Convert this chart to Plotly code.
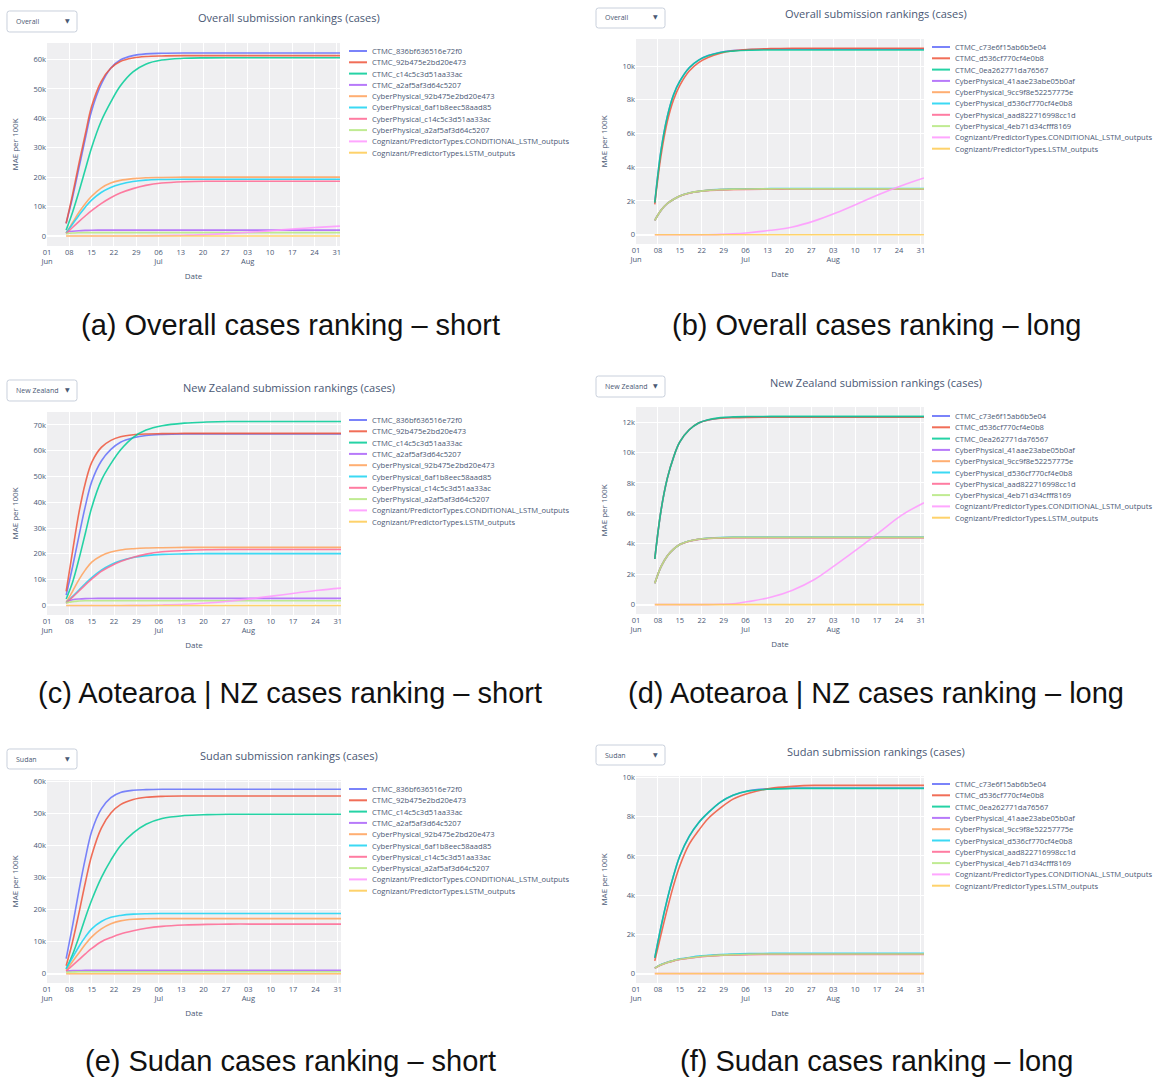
import plotly.graph_objects as go

# ---------------- data (values in thousands of MAE per 100K) ----------------
DATES = ["2020-06-07", "2020-06-09", "2020-06-11", "2020-06-13", "2020-06-15",
         "2020-06-18", "2020-06-21", "2020-06-24", "2020-06-28", "2020-07-02",
         "2020-07-07", "2020-07-14", "2020-07-21", "2020-07-28", "2020-08-04",
         "2020-08-11", "2020-08-18", "2020-08-25", "2020-09-01"]
UNIT = 1000

TICK_DATES = ["2020-06-01", "2020-06-08", "2020-06-15", "2020-06-22", "2020-06-29",
              "2020-07-06", "2020-07-13", "2020-07-20", "2020-07-27", "2020-08-03",
              "2020-08-10", "2020-08-17", "2020-08-24", "2020-08-31"]
TICK_TEXT = ["01<br>Jun", "08", "15", "22", "29", "06<br>Jul", "13", "20", "27",
             "03<br>Aug", "10", "17", "24", "31"]

SHORT_NAMES = ["CTMC_836bf636516e72f0", "CTMC_92b475e2bd20e473", "CTMC_c14c5c3d51aa33ac",
               "CTMC_a2af5af3d64c5207", "CyberPhysical_92b475e2bd20e473",
               "CyberPhysical_6af1b8eec58aad85", "CyberPhysical_c14c5c3d51aa33ac",
               "CyberPhysical_a2af5af3d64c5207",
               "Cognizant/PredictorTypes.CONDITIONAL_LSTM_outputs",
               "Cognizant/PredictorTypes.LSTM_outputs"]
LONG_NAMES = ["CTMC_c73e6f15ab6b5e04", "CTMC_d536cf770cf4e0b8", "CTMC_0ea262771da76567",
              "CyberPhysical_41aae23abe05b0af", "CyberPhysical_9cc9f8e52257775e",
              "CyberPhysical_d536cf770cf4e0b8", "CyberPhysical_aad822716998cc1d",
              "CyberPhysical_4eb71d34cfff8169",
              "Cognizant/PredictorTypes.CONDITIONAL_LSTM_outputs",
              "Cognizant/PredictorTypes.LSTM_outputs"]

COLORS = ["#636efa", "#EF553B", "#00cc96", "#ab63fa", "#FFA15A",
          "#19d3f3", "#FF6692", "#B6E880", "#FF97FF", "#FECB52"]

# (a) Overall - short
A_VALUES = [
    [4.3, 13, 23, 33, 42.5, 51.5, 57, 59.8, 61.3, 61.9, 62.1, 62.2, 62.2, 62.2, 62.2, 62.2, 62.2, 62.2, 62.2],
    [4.3, 14, 24.5, 34.5, 44, 52.5, 57, 59.3, 60.5, 61.0, 61.2, 61.3, 61.3, 61.3, 61.3, 61.3, 61.3, 61.3, 61.3],
    [2.0, 8, 15, 22.5, 30, 39, 45.5, 51, 55.8, 58.4, 59.8, 60.4, 60.55, 60.6, 60.6, 60.6, 60.6, 60.6, 60.6],
    [1.3, 1.6, 1.8, 1.9, 1.95, 2.0, 2.0, 2.0, 2.0, 2.0, 2.0, 2.0, 2.0, 2.0, 2.0, 2.0, 2.0, 2.0, 2.0],
    [1.0, 4.5, 8, 11, 13.5, 16.3, 18.0, 18.9, 19.5, 19.8, 19.9, 20.0, 20.0, 20.0, 20.0, 20.0, 20.0, 20.0, 20.0],
    [1.0, 4, 7, 9.8, 12.2, 14.8, 16.5, 17.6, 18.5, 19.0, 19.2, 19.3, 19.3, 19.3, 19.3, 19.3, 19.3, 19.3, 19.3],
    [0.8, 2.9, 4.9, 6.8, 8.6, 11.0, 13.0, 14.6, 16.1, 17.2, 18.0, 18.45, 18.6, 18.6, 18.6, 18.6, 18.6, 18.6, 18.6],
    [0.8, 1.0, 1.1, 1.15, 1.15, 1.15, 1.15, 1.15, 1.15, 1.15, 1.15, 1.15, 1.15, 1.15, 1.15, 1.15, 1.15, 1.15, 1.15],
    [0, 0, 0, 0, 0, 0, 0, 0, 0.02, 0.05, 0.12, 0.26, 0.46, 0.82, 1.3, 1.85, 2.42, 2.92, 3.36],
    [0] * 19,
]
# (b) Overall - long
B_VALUES = [
    [1.9, 5.0, 7.0, 8.3, 9.1, 9.9, 10.35, 10.62, 10.82, 10.92, 10.97, 11.0, 11.0, 11.0, 11.0, 11.0, 11.0, 11.0, 11.0],
    [1.8, 4.7, 6.7, 8.0, 8.85, 9.7, 10.2, 10.5, 10.75, 10.9, 10.98, 11.03, 11.05, 11.05, 11.05, 11.05, 11.05, 11.05, 11.05],
    [1.9, 5.0, 7.0, 8.3, 9.1, 9.9, 10.35, 10.6, 10.8, 10.88, 10.93, 10.95, 10.95, 10.95, 10.95, 10.95, 10.95, 10.95, 10.95],
    [0.85, 1.45, 1.85, 2.1, 2.3, 2.47, 2.57, 2.63, 2.67, 2.7, 2.71, 2.72, 2.72, 2.72, 2.72, 2.72, 2.72, 2.72, 2.72],
    [0.85, 1.45, 1.85, 2.1, 2.3, 2.47, 2.57, 2.63, 2.67, 2.69, 2.7, 2.71, 2.71, 2.71, 2.71, 2.71, 2.71, 2.71, 2.71],
    [0.85, 1.45, 1.85, 2.1, 2.3, 2.47, 2.57, 2.64, 2.68, 2.71, 2.72, 2.73, 2.73, 2.73, 2.73, 2.73, 2.73, 2.73, 2.73],
    [0.85, 1.45, 1.85, 2.1, 2.3, 2.46, 2.56, 2.62, 2.66, 2.68, 2.69, 2.7, 2.7, 2.7, 2.7, 2.7, 2.7, 2.7, 2.7],
    [0.85, 1.45, 1.85, 2.1, 2.3, 2.47, 2.57, 2.63, 2.67, 2.7, 2.71, 2.72, 2.72, 2.72, 2.72, 2.72, 2.72, 2.72, 2.72],
    [0, 0, 0, 0, 0, 0, 0, 0, 0.02, 0.05, 0.12, 0.26, 0.46, 0.82, 1.3, 1.85, 2.42, 2.92, 3.36],
    [0] * 19,
]
# (c) New Zealand - short
C_VALUES = [
    [4.0, 15, 27, 38.5, 48, 56, 60.5, 63.3, 65.0, 65.9, 66.3, 66.5, 66.5, 66.5, 66.5, 66.5, 66.5, 66.5, 66.5],
    [5.5, 21, 36, 47.5, 55.5, 61.3, 64.0, 65.4, 66.2, 66.5, 66.6, 66.7, 66.7, 66.7, 66.7, 66.7, 66.7, 66.7, 66.7],
    [2.5, 9, 18, 28, 38, 48.5, 55, 60.3, 65.2, 68.0, 69.7, 70.7, 71.1, 71.3, 71.3, 71.3, 71.3, 71.3, 71.3],
    [1.5, 2.2, 2.5, 2.65, 2.7, 2.75, 2.75, 2.75, 2.75, 2.75, 2.75, 2.75, 2.75, 2.75, 2.75, 2.75, 2.75, 2.75, 2.75],
    [1.2, 5.5, 10, 13.8, 16.8, 19.3, 20.7, 21.5, 22.0, 22.3, 22.4, 22.5, 22.5, 22.5, 22.5, 22.5, 22.5, 22.5, 22.5],
    [1.0, 3.5, 6, 8.5, 10.8, 13.7, 15.8, 17.3, 18.6, 19.3, 19.8, 20.0, 20.1, 20.1, 20.1, 20.1, 20.1, 20.1, 20.1],
    [0.9, 3.2, 5.6, 8.0, 10.2, 13.2, 15.3, 17.0, 18.7, 19.9, 20.8, 21.3, 21.6, 21.7, 21.7, 21.7, 21.7, 21.7, 21.7],
    [1.0, 1.5, 1.7, 1.8, 1.8, 1.8, 1.8, 1.8, 1.8, 1.8, 1.8, 1.8, 1.8, 1.8, 1.8, 1.8, 1.8, 1.8, 1.8],
    [0, 0, 0, 0, 0, 0, 0, 0, 0.02, 0.05, 0.2, 0.48, 0.95, 1.65, 2.65, 3.7, 4.8, 5.9, 6.7],
    [0] * 19,
]
# (d) New Zealand - long
D_VALUES = [
    [3.0, 6.2, 8.3, 9.7, 10.7, 11.5, 11.95, 12.15, 12.28, 12.33, 12.35, 12.36, 12.36, 12.36, 12.36, 12.36, 12.36, 12.36, 12.36],
    [3.0, 6.2, 8.3, 9.7, 10.7, 11.5, 11.95, 12.14, 12.26, 12.3, 12.32, 12.33, 12.33, 12.33, 12.33, 12.33, 12.33, 12.33, 12.33],
    [3.0, 6.2, 8.3, 9.7, 10.7, 11.5, 11.95, 12.16, 12.3, 12.35, 12.37, 12.38, 12.38, 12.38, 12.38, 12.38, 12.38, 12.38, 12.38],
    [1.4, 2.5, 3.2, 3.65, 3.95, 4.18, 4.3, 4.36, 4.4, 4.42, 4.42, 4.42, 4.42, 4.42, 4.42, 4.42, 4.42, 4.42, 4.42],
    [1.4, 2.5, 3.2, 3.65, 3.95, 4.18, 4.3, 4.35, 4.39, 4.41, 4.41, 4.41, 4.41, 4.41, 4.41, 4.41, 4.41, 4.41, 4.41],
    [1.4, 2.5, 3.2, 3.65, 3.95, 4.18, 4.3, 4.36, 4.41, 4.43, 4.43, 4.43, 4.43, 4.43, 4.43, 4.43, 4.43, 4.43, 4.43],
    [1.4, 2.5, 3.2, 3.65, 3.95, 4.17, 4.29, 4.35, 4.39, 4.4, 4.4, 4.4, 4.4, 4.4, 4.4, 4.4, 4.4, 4.4, 4.4],
    [1.4, 2.5, 3.2, 3.65, 3.95, 4.18, 4.3, 4.36, 4.4, 4.42, 4.42, 4.42, 4.42, 4.42, 4.42, 4.42, 4.42, 4.42, 4.42],
    [0, 0, 0, 0, 0, 0, 0, 0, 0.02, 0.05, 0.2, 0.48, 0.95, 1.65, 2.65, 3.7, 4.8, 5.9, 6.7],
    [0] * 19,
]
# (e) Sudan - short
E_VALUES = [
    [4.7, 15, 26, 36, 44.5, 51.5, 55, 56.6, 57.3, 57.5, 57.6, 57.6, 57.6, 57.6, 57.6, 57.6, 57.6, 57.6, 57.6],
    [2.5, 10, 19, 28.5, 37, 45.5, 50.2, 52.8, 54.4, 55.1, 55.4, 55.5, 55.5, 55.5, 55.5, 55.5, 55.5, 55.5, 55.5],
    [1.5, 6, 11.5, 17.5, 23, 30, 35.5, 40, 44, 46.7, 48.5, 49.4, 49.7, 49.8, 49.8, 49.8, 49.8, 49.8, 49.8],
    [0.8, 0.95, 1.0, 1.05, 1.05, 1.05, 1.05, 1.05, 1.05, 1.05, 1.05, 1.05, 1.05, 1.05, 1.05, 1.05, 1.05, 1.05, 1.05],
    [1.0, 3.8, 6.5, 9.2, 11.5, 14, 15.6, 16.5, 17.0, 17.15, 17.2, 17.2, 17.2, 17.2, 17.2, 17.2, 17.2, 17.2, 17.2],
    [1.5, 5, 8.5, 11.5, 14, 16.3, 17.6, 18.2, 18.6, 18.75, 18.8, 18.8, 18.8, 18.8, 18.8, 18.8, 18.8, 18.8, 18.8],
    [0.8, 2.6, 4.4, 6.2, 7.9, 10.0, 11.3, 12.4, 13.4, 14.2, 14.8, 15.2, 15.4, 15.5, 15.5, 15.5, 15.5, 15.5, 15.5],
    [0.5, 0.55, 0.6, 0.6, 0.6, 0.6, 0.6, 0.6, 0.6, 0.6, 0.6, 0.6, 0.6, 0.6, 0.6, 0.6, 0.6, 0.6, 0.6],
    [0] * 19,
    [0] * 19,
]
# (f) Sudan - long
F_VALUES = [
    [0.8, 2.4, 3.8, 5.0, 6.0, 7.0, 7.7, 8.2, 8.75, 9.1, 9.33, 9.43, 9.46, 9.47, 9.47, 9.47, 9.47, 9.47, 9.47],
    [0.65, 2.0, 3.3, 4.5, 5.5, 6.6, 7.3, 7.9, 8.45, 8.9, 9.2, 9.45, 9.55, 9.6, 9.6, 9.6, 9.6, 9.6, 9.6],
    [0.8, 2.4, 3.8, 5.0, 6.0, 7.0, 7.7, 8.2, 8.75, 9.1, 9.32, 9.41, 9.44, 9.45, 9.45, 9.45, 9.45, 9.45, 9.45],
    [0.28, 0.45, 0.57, 0.66, 0.73, 0.8, 0.86, 0.9, 0.94, 0.97, 0.99, 1.0, 1.0, 1.0, 1.0, 1.0, 1.0, 1.0, 1.0],
    [0.28, 0.45, 0.57, 0.66, 0.73, 0.8, 0.86, 0.9, 0.94, 0.97, 0.99, 1.0, 1.0, 1.0, 1.0, 1.0, 1.0, 1.0, 1.0],
    [0.28, 0.46, 0.58, 0.67, 0.75, 0.82, 0.89, 0.93, 0.97, 1.0, 1.02, 1.03, 1.04, 1.04, 1.04, 1.04, 1.04, 1.04, 1.04],
    [0.27, 0.44, 0.56, 0.65, 0.72, 0.79, 0.85, 0.89, 0.93, 0.95, 0.97, 0.98, 0.98, 0.98, 0.98, 0.98, 0.98, 0.98, 0.98],
    [0.28, 0.45, 0.57, 0.66, 0.73, 0.8, 0.86, 0.9, 0.94, 0.97, 0.99, 1.0, 1.0, 1.0, 1.0, 1.0, 1.0, 1.0, 1.0],
    [0] * 19,
    [0] * 19,
]

TITLES = ["Overall submission rankings (cases)", "Overall submission rankings (cases)",
          "New Zealand submission rankings (cases)", "New Zealand submission rankings (cases)",
          "Sudan submission rankings (cases)", "Sudan submission rankings (cases)"]
DROPDOWN_LABELS = ["Overall", "Overall", "New Zealand", "New Zealand", "Sudan", "Sudan"]
CAPTIONS = ["(a) Overall cases ranking \u2013 short", "(b) Overall cases ranking \u2013 long",
            "(c) Aotearoa | NZ cases ranking \u2013 short", "(d) Aotearoa | NZ cases ranking \u2013 long",
            "(e) Sudan cases ranking \u2013 short", "(f) Sudan cases ranking \u2013 long"]
Y_RANGES = [[-3.4, 65.6], [-0.55, 11.6], [-3.7, 75.0], [-0.62, 13.0], [-2.9, 60.5], [-0.48, 10.08]]
Y_DTICKS = [10, 2, 10, 2, 10, 2]

# ---------------- layout geometry (pixels) ----------------
W, H = 1155, 1077
PLOT_BOXES = [(47, 43, 340, 246), (636, 39, 924, 244),
              (47, 412, 341, 615), (636, 407, 924, 614),
              (47, 780, 341, 983), (636, 776, 924, 983)]
DROP_BOXES = [(7, 11, 77, 32), (596, 8, 665, 28),
              (7, 380, 77, 401), (596, 376, 665, 397),
              (7, 749, 77, 769), (596, 745, 665, 765)]
TITLE_POS = [(289, 18), (876, 14), (289, 387), (876, 382), (289, 755), (876, 751)]
LEGEND_POS = [(349, 51), (932, 47), (349, 420), (932, 416), (349, 789), (932, 784)]
CAPTION_POS = [(290, 325), (876, 325), (290, 693), (876, 693), (290, 1061), (876, 1061)]
LEGEND_STEP = 11.3

FONT = "Open Sans"
TXT = "#4a5874"


def px(x):
    return x / W


def py(y):
    return 1 - y / H


panels = [
    (A_VALUES, SHORT_NAMES), (B_VALUES, LONG_NAMES),
    (C_VALUES, SHORT_NAMES), (D_VALUES, LONG_NAMES),
    (E_VALUES, SHORT_NAMES), (F_VALUES, LONG_NAMES),
]

fig = go.Figure()
layout = dict(width=W, height=H, autosize=False,
              margin=dict(l=0, r=0, t=0, b=0, pad=0, autoexpand=False),
              paper_bgcolor="white", plot_bgcolor="#EFEFF1",
              showlegend=False, font=dict(family=FONT, color=TXT, size=7))
shapes = []
annotations = []

for i, (values, names) in enumerate(panels):
    n = i + 1
    suffix = "" if n == 1 else str(n)
    xa, ya = "x" + suffix, "y" + suffix
    x0, y0, x1, y1 = PLOT_BOXES[i]
    for s, (vals, name) in enumerate(zip(values, names)):
        fig.add_trace(go.Scatter(
            x=DATES, y=[v * UNIT for v in vals], name=name, mode="lines",
            line=dict(color=COLORS[s], width=1.6, shape="spline"),
            opacity=0.85, xaxis=xa, yaxis=ya, showlegend=False))
    layout["xaxis" + suffix] = dict(
        domain=[px(x0), px(x1)], anchor=ya, type="date", automargin=False,
        range=["2020-06-01", "2020-09-01"],
        tickmode="array", tickvals=TICK_DATES, ticktext=TICK_TEXT,
        showgrid=True, gridcolor="white", gridwidth=1, zeroline=False,
        tickfont=dict(size=7.5, color=TXT), ticks="",
        title=dict(text="Date", font=dict(size=8, color=TXT), standoff=8))
    layout["yaxis" + suffix] = dict(
        domain=[py(y1), py(y0)], anchor=xa, automargin=False,
        range=[r * UNIT for r in Y_RANGES[i]], dtick=Y_DTICKS[i] * UNIT,
        showgrid=True, gridcolor="white", gridwidth=1,
        zeroline=True, zerolinecolor="white", zerolinewidth=2,
        tickfont=dict(size=7.5, color=TXT), ticks="",
        title=dict(text="MAE per 100K", font=dict(size=8, color=TXT), standoff=13))

    # title
    tx, ty = TITLE_POS[i]
    annotations.append(dict(text=TITLES[i], x=px(tx), y=py(ty), xref="paper", yref="paper",
                            xanchor="center", yanchor="middle", showarrow=False,
                            font=dict(size=11, color=TXT, family=FONT)))
    # dropdown widget look
    bx0, by0, bx1, by1 = DROP_BOXES[i]
    r = 2.5
    pts = [("M", bx0 + r, by0), ("L", bx1 - r, by0), ("Q", bx1, by0, bx1, by0 + r),
           ("L", bx1, by1 - r), ("Q", bx1, by1, bx1 - r, by1), ("L", bx0 + r, by1),
           ("Q", bx0, by1, bx0, by1 - r), ("L", bx0, by0 + r), ("Q", bx0, by0, bx0 + r, by0)]
    path = ""
    for p in pts:
        cmd = p[0]
        coords = p[1:]
        seg = []
        for k in range(0, len(coords), 2):
            seg.append(f"{px(coords[k]):.5f},{py(coords[k + 1]):.5f}")
        path += cmd + " " + " ".join(seg) + " "
    shapes.append(dict(type="path", path=path + "Z", xref="paper", yref="paper",
                       fillcolor="white", line=dict(color="#C9D0DC", width=1)))
    annotations.append(dict(text=DROPDOWN_LABELS[i], x=px(bx0 + 7), y=py((by0 + by1) / 2),
                            xref="paper", yref="paper", xanchor="left", yanchor="middle",
                            showarrow=False, font=dict(size=7, color=TXT, family=FONT)))
    annotations.append(dict(text="\u25BC", x=px(bx1 - 5), y=py((by0 + by1) / 2 - 1),
                            xref="paper", yref="paper", xanchor="right", yanchor="middle",
                            showarrow=False, font=dict(size=6, color=TXT, family="DejaVu Sans")))
    # legend
    lx, ly = LEGEND_POS[i]
    for s, name in enumerate(names):
        yy = ly + s * LEGEND_STEP
        shapes.append(dict(type="line", xref="paper", yref="paper",
                           x0=px(lx), x1=px(lx + 18), y0=py(yy), y1=py(yy),
                           line=dict(color=COLORS[s], width=2), opacity=0.85))
        annotations.append(dict(text=name, x=px(lx + 21), y=py(yy), xref="paper", yref="paper",
                                xanchor="left", yanchor="middle", showarrow=False,
                                font=dict(size=7.6, color=TXT, family=FONT)))
    # caption
    cx, cy = CAPTION_POS[i]
    annotations.append(dict(text=CAPTIONS[i], x=px(cx), y=py(cy), xref="paper", yref="paper",
                            xanchor="center", yanchor="middle", showarrow=False,
                            font=dict(size=29, color="#111111", family="Liberation Sans")))

layout["shapes"] = shapes
layout["annotations"] = annotations
fig.update_layout(**layout)
fig.write_html("out.html", config={"displayModeBar": False, "staticPlot": True},
               post_script="document.body.style.margin='0px';")
